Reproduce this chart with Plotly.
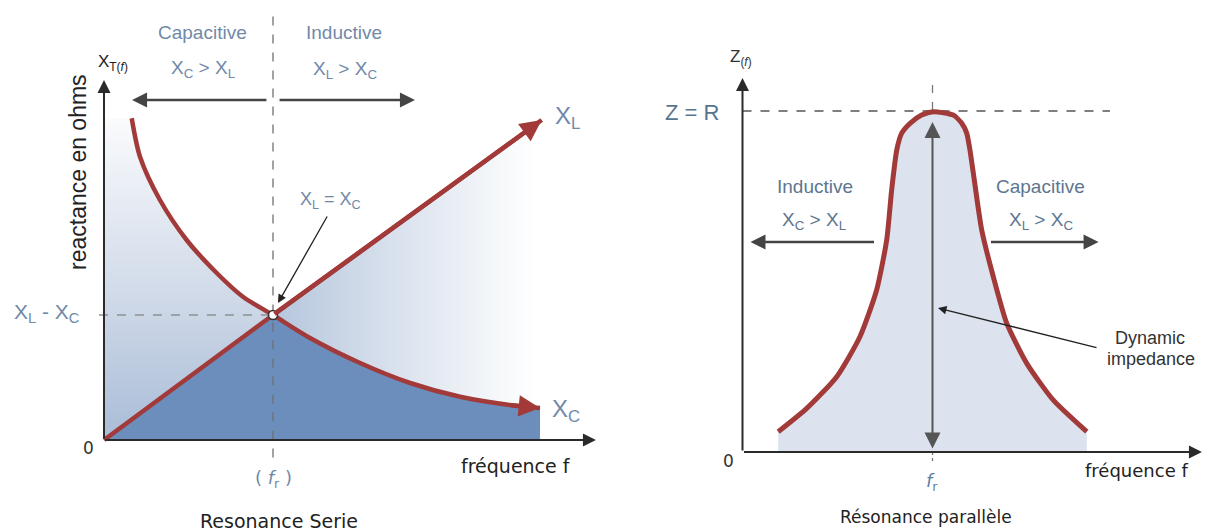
import plotly.graph_objects as go

# ---------------- DATA ----------------
# Series resonance (left): normalised frequency f/fr and reactance
xl_freq = [0.0, 1.0, 2.59]
xl_react = [0.0, 1.0, 2.56]
xc_freq = [0.164, 0.213, 0.331, 0.489, 0.667, 0.822, 1.0, 1.219, 1.515, 1.811, 2.107, 2.402, 2.58]
xc_react = [2.574, 2.266, 1.92, 1.6, 1.336, 1.146, 1.0, 0.816, 0.616, 0.456, 0.346, 0.28, 0.256]
f_res = 1.0
x_res = 1.0

# Parallel resonance (right): normalised frequency and impedance Z/R
z_freq = [0.188, 0.338, 0.496, 0.618, 0.706, 0.759, 0.785, 0.812, 0.838, 0.882, 0.943, 1.004,
          1.109, 1.154, 1.18, 1.197, 1.215, 1.259, 1.32, 1.391, 1.496, 1.636, 1.812]
z_imp = [0.0595, 0.128, 0.221, 0.338, 0.475, 0.622, 0.768, 0.886, 0.935, 0.964, 0.988, 0.998,
         0.988, 0.964, 0.935, 0.886, 0.817, 0.651, 0.514, 0.377, 0.26, 0.152, 0.0595]
z_peak = 1.0

W, H = 1208, 532
RED = "#a23a3a"
BLUE_TXT = "#7189a8"
DARK = "#222222"


def P(px, py):
    return px / W, 1 - py / H


fig = go.Figure()

# ---------- left subplot traces ----------
i0 = xc_freq.index(f_res)
# light gradient, left of resonance (under XC)
fig.add_trace(go.Scatter(
    x=[0, 0] + xc_freq[:i0 + 1] + [f_res],
    y=[0, xc_react[0]] + xc_react[:i0 + 1] + [0],
    fill="toself", mode="none",
    fillgradient=dict(type="vertical", start=0, stop=2.75,
                      colorscale=[[0, "#a9bcd7"], [0.45, "#d3dcea"], [1, "#ffffff"]]),
    xaxis="x", yaxis="y", hoverinfo="skip", showlegend=False))
# light gradient, right of resonance (under XL)
fig.add_trace(go.Scatter(
    x=xl_freq[1:] + [xl_freq[-1], f_res],
    y=xl_react[1:] + [0, 0],
    fill="toself", mode="none",
    fillgradient=dict(type="horizontal", start=f_res, stop=2.55,
                      colorscale=[[0, "#b6c6dd"], [0.55, "#dfe6f0"], [1, "#ffffff"]]),
    xaxis="x", yaxis="y", hoverinfo="skip", showlegend=False))
# dark fill under min(XL, XC)
fig.add_trace(go.Scatter(
    x=xl_freq[:2] + xc_freq[i0 + 1:] + [xc_freq[-1], 0],
    y=xl_react[:2] + xc_react[i0 + 1:] + [0, 0],
    fill="toself", mode="none", fillcolor="#6b8ebd",
    xaxis="x", yaxis="y", hoverinfo="skip", showlegend=False))
# dashed guides
fig.add_trace(go.Scatter(x=[f_res, f_res], y=[-0.14, 3.42], mode="lines",
                         line=dict(color="#707070", width=1.3, dash="dash"),
                         xaxis="x", yaxis="y", hoverinfo="skip", showlegend=False))
fig.add_trace(go.Scatter(x=[-0.03, f_res], y=[x_res, x_res], mode="lines",
                         line=dict(color="#909090", width=1.3, dash="dash"),
                         xaxis="x", yaxis="y", hoverinfo="skip", showlegend=False))
# curves
fig.add_trace(go.Scatter(x=xl_freq, y=xl_react, mode="lines",
                         line=dict(color=RED, width=4.5),
                         xaxis="x", yaxis="y", hoverinfo="skip", showlegend=False))
fig.add_trace(go.Scatter(x=xc_freq, y=xc_react, mode="lines",
                         line=dict(color=RED, width=4.5, shape="spline", smoothing=0.8),
                         xaxis="x", yaxis="y", hoverinfo="skip", showlegend=False))
fig.add_trace(go.Scatter(x=[f_res], y=[x_res], mode="markers",
                         marker=dict(size=9, color="white", line=dict(color="#333", width=1.5)),
                         xaxis="x", yaxis="y", hoverinfo="skip", showlegend=False))

# ---------- right subplot traces ----------
fig.add_trace(go.Scatter(x=z_freq, y=z_imp, mode="lines", fill="tozeroy",
                         fillcolor="#dce3ee", line=dict(width=0, shape="spline", smoothing=0.6),
                         xaxis="x2", yaxis="y2", hoverinfo="skip", showlegend=False))
fig.add_trace(go.Scatter(x=[0, 1.934], y=[z_peak, z_peak], mode="lines",
                         line=dict(color="#555", width=1.3, dash="dash"),
                         xaxis="x2", yaxis="y2", hoverinfo="skip", showlegend=False))
fig.add_trace(go.Scatter(x=[1, 1], y=[z_peak, 1.076], mode="lines",
                         line=dict(color="#777", width=1.3, dash="dash"),
                         xaxis="x2", yaxis="y2", hoverinfo="skip", showlegend=False))
fig.add_trace(go.Scatter(x=[1, 1], y=[0, -0.03], mode="lines",
                         line=dict(color="#777", width=1.3, dash="dot"),
                         xaxis="x2", yaxis="y2", hoverinfo="skip", showlegend=False))
fig.add_trace(go.Scatter(x=z_freq, y=z_imp, mode="lines",
                         line=dict(color=RED, width=5, shape="spline", smoothing=0.6),
                         xaxis="x2", yaxis="y2", hoverinfo="skip", showlegend=False))

ann = []


def arrow(x, y, ax, ay, ref, color, width, size=1.0, head=2, side="end"):
    xr, yr = ref
    ann.append(dict(x=x, y=y, ax=ax, ay=ay, xref=xr, yref=yr, axref=xr, ayref=yr,
                    showarrow=True, arrowhead=head, startarrowhead=head, arrowside=side,
                    arrowsize=size, startarrowsize=size,
                    arrowwidth=width, arrowcolor=color, text="", standoff=0, startstandoff=0))


def text(t, px, py, size, color, family="Liberation Sans", angle=0):
    x, y = P(px, py)
    ann.append(dict(x=x, y=y, xref="paper", yref="paper", text=t, showarrow=False,
                    xanchor="center", yanchor="middle", textangle=angle,
                    font=dict(size=size, color=color, family=family)))


L = ("x", "y")
R = ("x2", "y2")
# red arrowheads at curve ends
arrow(xl_freq[-1], xl_react[-1], xl_freq[-2], xl_react[-2], L, RED, 4.5, 0.95)
arrow(xc_freq[-1], xc_react[-1], xc_freq[-2], xc_react[-2], L, RED, 4.5, 0.95)
# left axes
arrow(0, 2.88, 0, 0, L, "#2a2a2a", 2, 1.3)
arrow(2.911, 0, 0, 0, L, "#2a2a2a", 2, 1.3)
# left region arrows
arrow(0.166, 2.72, 0.97, 2.72, L, "#444", 2.5, 1.2)
arrow(1.84, 2.72, 1.03, 2.72, L, "#444", 2.5, 1.2)
# right axes
arrow(0, 1.097, 0, 0, R, "#2a2a2a", 2, 1.3)
arrow(2.418, 0, 0, 0, R, "#2a2a2a", 2, 1.3)
# right region arrows
arrow(0.042, 0.616, 0.7, 0.616, R, "#444", 2.5, 1.2)
arrow(1.874, 0.616, 1.3, 0.616, R, "#444", 2.5, 1.2)
# dynamic impedance double arrow
arrow(1, 0.968, 1, 0.006, R, "#555", 2, 1.6, 2, "end+start")
# pointer arrows (paper coords with pixel offsets)
x, y = P(278, 303)
ann.append(dict(x=x, y=y, xref="paper", yref="paper", ax=328 - 278, ay=215 - 303,
                showarrow=True, arrowhead=2, arrowsize=1.3, arrowwidth=1.3,
                arrowcolor="#222", text="", standoff=0))
x, y = P(938, 308)
ann.append(dict(x=x, y=y, xref="paper", yref="paper", ax=1098 - 938, ay=348 - 308,
                showarrow=True, arrowhead=2, arrowsize=1.3, arrowwidth=1.3,
                arrowcolor="#222", text="", standoff=0))

COMIC = "DejaVu Sans"
# left texts
text("Capacitive", 202, 33, 19, BLUE_TXT)
text("X<sub>C</sub> > X<sub>L</sub>", 203, 69, 19, BLUE_TXT)
text("Inductive", 344, 33, 19, BLUE_TXT)
text("X<sub>L</sub> > X<sub>C</sub>", 345, 70, 19, BLUE_TXT)
text("X<sub>T(<i>f</i>)</sub>", 113, 63, 17, DARK)
text("reactance en ohms", 78, 172, 23, DARK, angle=-90)
text("X<sub>L</sub> - X<sub>C</sub>", 47, 313, 21, BLUE_TXT)
text("0", 88, 448, 17, "#333", COMIC)
text("X<sub>L</sub> = X<sub>C</sub>", 330, 200, 18, BLUE_TXT)
text("X<sub>L</sub>", 567, 117, 24, BLUE_TXT)
text("X<sub>C</sub>", 566, 410, 24, BLUE_TXT)
text("( <i>f</i><sub>r</sub> )", 273, 479, 18, BLUE_TXT, COMIC)
text("fréquence f", 516, 466, 19, DARK, COMIC)
text("Resonance Serie", 279, 521, 19, DARK, COMIC)
# right texts
text("Z<sub>(<i>f</i>)</sub>", 741, 58, 17, "#333")
text("Z = R", 692, 112, 22, "#56758f")
text("Inductive", 815, 187, 19, "#5d7690")
text("X<sub>C</sub> > X<sub>L</sub>", 814, 221, 19, "#5d7690")
text("Capacitive", 1040, 187, 19, "#5d7690")
text("X<sub>L</sub> > X<sub>C</sub>", 1041, 221, 19, "#5d7690")
text("Dynamic", 1150, 338, 18, "#333")
text("impedance", 1151, 359, 18, "#333")
text("0", 728, 461, 17, "#333", COMIC)
text("fréquence f", 1136, 470, 18, DARK, COMIC)
text("<i>f</i><sub>r</sub>", 932, 482, 18, "#5d7fa0", COMIC)
text("Résonance parallèle", 926, 517, 17, DARK, COMIC)

split = 620 / W
fig.update_layout(
    width=W, height=H, margin=dict(l=0, r=0, t=0, b=0),
    paper_bgcolor="white", plot_bgcolor="white",
    xaxis=dict(domain=[0, split], range=[-104 / 169, (620 - 104) / 169], visible=False, fixedrange=True),
    yaxis=dict(domain=[0, 1], range=[(440 - 532) / 125, 440 / 125], visible=False, fixedrange=True),
    xaxis2=dict(domain=[split, 1], range=[(620 - 742.5) / 190, (1208 - 742.5) / 190], visible=False, fixedrange=True),
    yaxis2=dict(domain=[0, 1], range=[(452 - 532) / 341, 452 / 341], visible=False, fixedrange=True),
    annotations=ann, showlegend=False,
)

fig.write_html("out.html", config={"displayModeBar": False},
               post_script="document.body.style.margin='0';document.body.style.overflow='hidden';")
